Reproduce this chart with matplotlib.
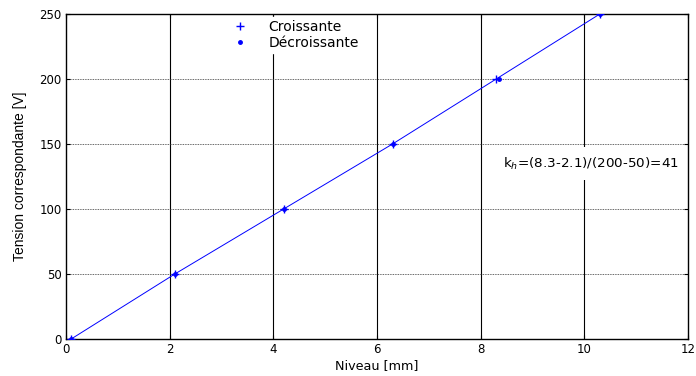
import matplotlib
matplotlib.use("Agg")
import matplotlib.pyplot as plt

plt.rcParams['font.family'] = ['DejaVu Sans']

# Mesures : niveau [mm] et tension correspondante [V]
tension = [0, 50, 100, 150, 200, 250]
niveau_croissant = [0.1, 2.1, 4.2, 6.3, 8.3, 10.3]
niveau_decroissant = [0.1, 2.1, 4.2, 6.3, 8.35, 10.3]

xticks = [0, 2, 4, 6, 8, 10, 12]
yticks = [0, 50, 100, 150, 200, 250]

fig = plt.figure(figsize=(6.96, 3.76), dpi=100)
ax = fig.add_axes([0.0948, 0.0984, 0.8937, 0.8644])

ax.plot(niveau_croissant, tension, color='#0000ff', lw=0.7, zorder=3)
ax.plot(niveau_croissant, tension, '+', color='#0000ff', ms=6, mew=1.0,
        label='Croissante', zorder=4)
ax.plot(niveau_decroissant, tension, '.', color='#0000ff', ms=5,
        label='Décroissante', zorder=4)

ax.set_xlim(0, 12)
ax.set_ylim(0, 250)
ax.set_xticks(xticks)
ax.set_yticks(yticks)

# Grille : verticales pleines, horizontales pointillées
for x in xticks[1:-1]:
    ax.axvline(x, color='black', lw=0.8, zorder=1)
for y in yticks[1:-1]:
    ax.axhline(y, color='#333333', lw=0.6, ls=(0, (1, 1)), zorder=1)

ax.tick_params(direction='in', length=3, labelsize=8.5, width=0.8,
               top=True, right=True, pad=3)
for s in ax.spines.values():
    s.set_linewidth(1.0)

ax.set_xlabel('Niveau [mm]', fontsize=9.2, labelpad=2)
ax.set_ylabel('Tension correspondante [V]', fontsize=10,
              family=['Liberation Sans', 'DejaVu Sans'], labelpad=9)

leg = ax.legend(loc='upper left', bbox_to_anchor=(0.258, 1.0), fontsize=10,
                frameon=True, fancybox=False, borderpad=0.2,
                borderaxespad=0.2, handletextpad=1.4, labelspacing=0.2,
                handlelength=1.2)
leg.get_frame().set_edgecolor('white')
leg.get_frame().set_alpha(1)
leg.set_zorder(5)

ax.text(8.43, 135, r'k$_h$=(8.3-2.1)/(200-50)=41', fontsize=9.7,
        ha='left', va='center', zorder=5,
        bbox=dict(facecolor='white', edgecolor='none', pad=6))

fig.savefig('out.png', dpi=100)
